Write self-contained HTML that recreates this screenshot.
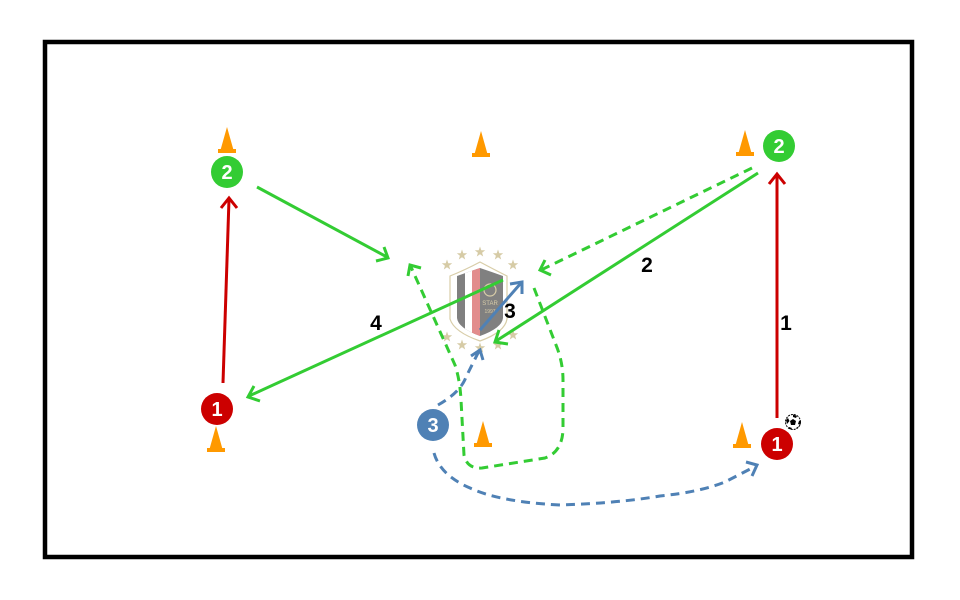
<!DOCTYPE html>
<html>
<head>
<meta charset="utf-8">
<style>
html,body{margin:0;padding:0;background:#fff;}
svg{display:block;}
text{font-family:"Liberation Sans",Arial,sans-serif;font-weight:bold;}
</style>
</head>
<body>
<svg width="960" height="600" viewBox="0 0 960 600" xmlns="http://www.w3.org/2000/svg">
<defs>
  <polygon id="star" points="0,-5.5 1.3,-1.8 5.2,-1.7 2.1,0.7 3.2,4.5 0,2.2 -3.2,4.5 -2.1,0.7 -5.2,-1.7 -1.3,-1.8" fill="#d6cba6"/>
  <g id="cone">
    <polygon points="0,0 6.5,23 -6.5,23" fill="#ff9900"/>
    <rect x="-9" y="22" width="18" height="4" fill="#ff9900"/>
  </g>
  <clipPath id="shieldclip">
    <path d="M457,276 Q468,272 480,268 Q492,272 503,276 L503,318 Q502,328 480,336 Q458,328 457,318 Z"/>
  </clipPath>
</defs>

<rect x="0" y="0" width="960" height="600" fill="#fff"/>
<rect x="45" y="42" width="867" height="515" fill="none" stroke="#000" stroke-width="4.5"/>

<!-- cones -->
<use href="#cone" x="227" y="127"/>
<use href="#cone" x="481" y="131"/>
<use href="#cone" x="745" y="130"/>
<use href="#cone" x="216" y="426"/>
<use href="#cone" x="483" y="421"/>
<use href="#cone" x="742" y="422"/>

<!-- logo -->
<g>
  <path d="M450,276 Q465,270 480,262 Q495,270 507,276 L507,319 Q505,332 480,341 Q454,332 450,319 Z" fill="#fff" stroke="#d8cda8" stroke-width="1.2"/>
  <path d="M457,276 Q468,272 480,268 Q492,272 503,276 L503,318 Q502,328 480,336 Q458,328 457,318 Z" fill="#808080"/>
  <g clip-path="url(#shieldclip)">
    <rect x="465" y="260" width="7" height="80" fill="#ffffff"/>
    <rect x="472" y="260" width="8" height="80" fill="#e28c8c"/>
  </g>
  <circle cx="490" cy="290" r="6" fill="none" stroke="#d8cda8" stroke-width="1.2"/>
  <text x="490" y="305" font-size="6" fill="#d8cda8" text-anchor="middle" style="font-weight:normal">STAR</text>
  <text x="490" y="313" font-size="5" fill="#d8cda8" text-anchor="middle" style="font-weight:normal">1997</text>
  <use href="#star" x="447" y="265"/>
  <use href="#star" x="462" y="255"/>
  <use href="#star" x="480" y="252"/>
  <use href="#star" x="498" y="255"/>
  <use href="#star" x="513" y="265"/>
  <use href="#star" x="447" y="337"/>
  <use href="#star" x="462" y="345"/>
  <use href="#star" x="480" y="348"/>
  <use href="#star" x="498" y="345"/>
  <use href="#star" x="513" y="335"/>
</g>

<!-- red runs -->
<g stroke="#cc0000" stroke-width="3" fill="none" stroke-linecap="butt">
  <line x1="223" y1="383" x2="229" y2="199"/>
  <polyline points="221,208 229,198 237,208"/>
  <line x1="777" y1="418" x2="777" y2="175"/>
  <polyline points="769,184 777,174 785,184"/>
</g>

<!-- green solid passes -->
<g stroke="#33cc33" stroke-width="3" fill="none">
  <line x1="257" y1="187" x2="387" y2="257"/>
  <polyline points="384,247 388,258 376,261"/>
  <line x1="758" y1="173" x2="496" y2="341"/>
  <polyline points="508,344 495,342 499,330"/>
  <line x1="503" y1="280" x2="249" y2="396"/>
  <polyline points="260,401 248,397 254,386"/>
</g>

<!-- green dashed runs -->
<g stroke="#33cc33" stroke-width="3" fill="none" stroke-dasharray="9,6">
  <line x1="752" y1="168" x2="541" y2="270"/>
  <path d="M534,288 L556,345 Q563,362 563,380 L563,430 Q562,452 545,458 L482,468 Q467,469 464,455 L461,400 Q460,380 455,365 L411,267"/>
</g>
<g stroke="#33cc33" stroke-width="3" fill="none">
  <polyline points="551,275 540,270 545,260"/>
  <polyline points="408,276 410,265 421,268"/>
</g>

<!-- blue -->
<g stroke="#4f81b5" stroke-width="3" fill="none">
  <line x1="480" y1="330" x2="521" y2="283"/>
  <polyline points="510,284 522,282 522,294"/>
  <polyline points="471,356 480,350 483,360"/>
  <polyline points="746,462 757,465 752,476"/>
</g>
<g stroke="#4f81b5" stroke-width="3" fill="none" stroke-dasharray="9,6">
  <path d="M438,405 C452,397 462,388 466,377 L479,351"/>
  <path d="M434,453 Q440,475 470,488 Q500,502 560,505 Q620,503 660,496 Q700,492 725,482 L756,466"/>
</g>

<!-- labels -->
<g font-size="21" fill="#000" text-anchor="middle">
  <text x="786" y="330">1</text>
  <text x="647" y="272">2</text>
  <text x="510" y="318">3</text>
  <text x="376" y="330">4</text>
</g>

<!-- players -->
<g font-size="20" fill="#fff" text-anchor="middle">
  <circle cx="227" cy="172" r="16" fill="#33cc33"/>
  <text x="227" y="179" fill="#fff">2</text>
  <circle cx="779" cy="146" r="16" fill="#33cc33"/>
  <text x="779" y="153" fill="#fff">2</text>
  <circle cx="217" cy="409" r="16" fill="#cc0000"/>
  <text x="217" y="416" fill="#fff">1</text>
  <circle cx="777" cy="444" r="16" fill="#cc0000"/>
  <text x="777" y="451" fill="#fff">1</text>
  <circle cx="433" cy="425" r="16" fill="#4f81b5"/>
  <text x="433" y="432" fill="#fff">3</text>
</g>

<!-- ball -->
<g>
  <circle cx="793" cy="422" r="7.5" fill="#fff" stroke="#000" stroke-width="1" stroke-dasharray="2,1"/>
  <polygon points="793,419 796,421 795,425 791,425 790,421" fill="#000"/>
  <path d="M793,414.5 L797,416 L796,418 L793,417 Z" fill="#000"/>
  <path d="M786,420 L788,418 L789.5,421 L787,424 Z" fill="#000"/>
  <path d="M799,421 L800.5,420 L800.5,425 L798,424 Z" fill="#000"/>
  <path d="M789,427 L792,428 L791,429.5 L788,428.5 Z" fill="#000"/>
  <path d="M796,428 L799,426 L797,429 Z" fill="#000"/>
</g>
</svg>
</body>
</html>
